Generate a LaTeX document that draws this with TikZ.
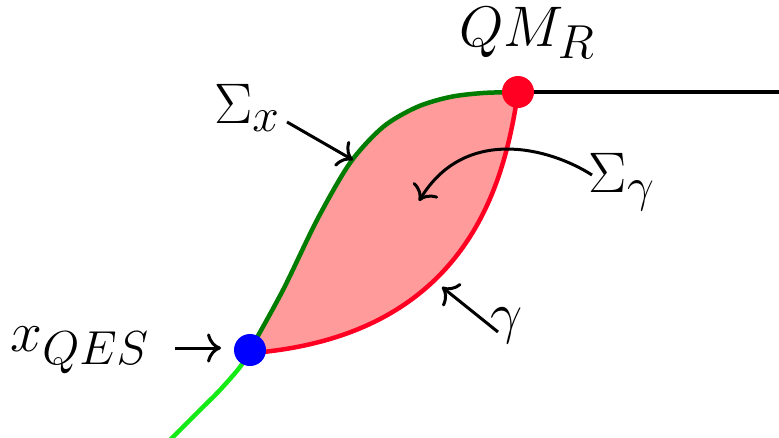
\documentclass[tikz,border=0pt]{standalone}
\usetikzlibrary{arrows.meta}
\definecolor{dgreen}{RGB}{0,125,0}
\definecolor{lgreen}{RGB}{20,235,20}
\definecolor{cred}{RGB}{255,0,35}
\definecolor{pinkfill}{RGB}{255,155,155}
\definecolor{cblue}{RGB}{0,0,255}
\begin{document}
\begin{tikzpicture}[x=1pt,y=-1pt,
  lab/.style={font=\Huge,scale=2.3,inner sep=0pt},
  arr/.style={line width=3pt,-{To[scale=1.7]}},
  curve/.style={line width=4.5pt},
  dot/.style={circle,inner sep=0pt,minimum size=32pt}]
\useasboundingbox (0,0) rectangle (779,437);
% shaded region
\fill[pinkfill] plot[smooth] coordinates {(250,350) (283,290) (317,220) (350,163) (383,127) (417,107) (450,97) (483,93) (518,92)}
  .. controls (505,180) and (470,330) .. (263,352) -- (250,350) -- cycle;
% curves
\draw[curve,cred] (518,92) .. controls (505,180) and (470,330) .. (263,352) -- (250,351);
\draw[curve,dgreen] plot[smooth] coordinates {(250,350) (283,290) (317,220) (350,163) (383,127) (417,107) (450,97) (483,93) (518,92)};
\draw[curve,lgreen] plot[smooth] coordinates {(250,350) (240,367) (220,390) (200,410) (168,442)};
% dots
\node[dot,fill=cred] (qm) at (518,92) {};
\node[dot,fill=cblue] (qes) at (250,350) {};
\draw[curve,black] (qm.east) -- (779,92);
% labels
\node[lab] (lqm) at (527,33) {$QM_R$};
\node[lab] (lsx) at (247,108) {$\Sigma_x$};
\node[lab] (lsg) at (622,182) {$\Sigma_\gamma$};
\node[lab] (lg) at (507,326) {$\gamma$};
\node[lab] (lqes) at (80,350) {$x_{QES}$};
% arrow endpoints
\coordinate (sxs) at (287,122);
\coordinate (sxe) at (353,160);
\coordinate (sgs) at (592,175);
\coordinate (sge) at (419,201);
\coordinate (gs) at (498,332);
\coordinate (ge) at (442,287);
\coordinate (qs) at (175,348);
\coordinate (qe) at (221,348);
\draw[arr] (sxs) -- (sxe);
\draw[arr] (sgs) .. controls (550,148) and (465,125) .. (sge);
\draw[arr] (gs) -- (ge);
\draw[arr] (qs) -- (qe);
\end{tikzpicture}
\end{document}
